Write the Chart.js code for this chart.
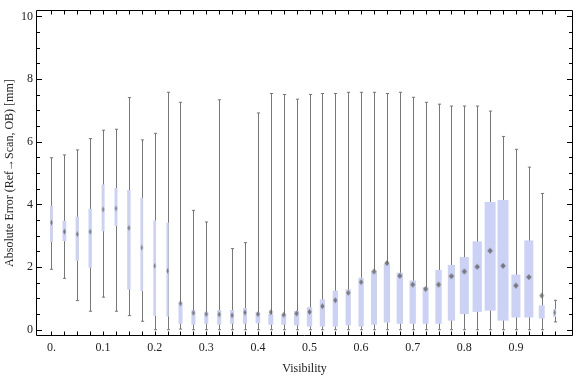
<!DOCTYPE html>
<html><head><meta charset="utf-8">
<script src="https://cdn.jsdelivr.net/npm/chart.js@4/dist/chart.umd.min.js"></script>
<style>html,body{margin:0;padding:0;background:#fff}#wrap{width:576px;height:377px}</style>
</head><body><div id="wrap"><canvas id="c" width="576" height="377"></canvas></div>
<script>
// ---- data ----
const visibility = [0,0.025,0.05,0.075,0.1,0.125,0.15,0.175,0.2,0.225,
  0.25,0.275,0.3,0.325,0.35,0.375,0.4,0.425,0.45,0.475,
  0.5,0.525,0.55,0.575,0.6,0.625,0.65,0.675,0.7,0.725,
  0.75,0.775,0.8,0.825,0.85,0.875,0.9,0.925,0.95,0.975];
const whiskerHigh = [5.49,5.58,5.74,6.10,6.37,6.40,7.41,6.06,6.27,7.58,
  7.26,3.81,3.44,7.34,2.59,2.78,6.92,7.54,7.51,7.36,
  7.51,7.54,7.54,7.58,7.58,7.58,7.54,7.58,7.42,7.26,
  7.20,7.14,7.14,7.14,6.98,6.17,5.76,5.19,4.35,0.94];
const upperQuartile = [3.96,3.48,3.61,3.86,4.64,4.52,4.46,4.21,3.49,3.42,
  0.87,0.63,0.56,0.63,0.63,0.69,0.56,0.50,0.50,0.60,
  0.72,0.97,1.25,1.29,1.66,1.88,2.11,1.82,1.57,1.36,
  1.91,2.07,2.32,2.82,4.08,4.14,1.76,2.85,0.78,0.66];
const median = [3.42,3.13,3.05,3.13,3.84,3.87,3.25,2.62,2.04,1.88,
  0.84,0.54,0.50,0.49,0.46,0.55,0.50,0.56,0.48,0.52,
  0.57,0.75,0.94,1.18,1.52,1.86,2.13,1.72,1.44,1.30,
  1.44,1.71,1.86,2.01,2.52,2.04,1.41,1.68,1.09,0.55];
const lowerQuartile = [2.80,2.83,2.20,1.98,3.14,3.31,1.28,1.23,0.44,0.42,
  0.19,0.16,0.19,0.16,0.19,0.19,0.21,0.16,0.16,0.14,
  0.10,0.10,0.10,0.14,0.10,0.16,0.23,0.19,0.19,0.19,
  0.19,0.29,0.50,0.57,0.61,0.29,0.39,0.39,0.36,0.41];
const whiskerLow = [1.93,1.64,0.93,0.59,1.04,0.59,0.45,0.27,0,0,
  0.02,0,0,0,0,0,0,0,0,0,
  0,0,0,0,0,0,0,0,0,0,
  0,0,0,0,0,0,0,0,0,0.25];
// relative box width (share of the bin spacing)
const relWidth = [0.23,0.29,0.26,0.26,0.23,0.23,0.26,0.21,0.21,0.18,
  0.31,0.31,0.31,0.31,0.31,0.31,0.36,0.39,0.39,0.41,
  0.41,0.41,0.41,0.41,0.41,0.46,0.49,0.49,0.49,0.46,
  0.49,0.56,0.70,0.72,0.85,0.85,0.70,0.70,0.46,0.23];
const xTickValues = [0,0.1,0.2,0.3,0.4,0.5,0.6,0.7,0.8,0.9];
const xTickLabels = ["0.","0.1","0.2","0.3","0.4","0.5","0.6","0.7","0.8","0.9"];
const yTickValues = [0,2,4,6,8,10];
const yTickLabels = ["0","2","4","6","8","10"];

// ---- drawing ----
const FONT = {family:"'Liberation Serif','Times New Roman',serif", size:12};
const BIN_PX = 12.93; // approximate pixel spacing of bins, only for marker sprite size
const markerCache = {};
function markerSprite(i){
  const w = Math.max(2.2, Math.min(5.5, relWidth[i]*BIN_PX*0.8));
  const key = w.toFixed(1);
  if (markerCache[key]) return markerCache[key];
  const c = document.createElement('canvas');
  const W = Math.ceil(w)+2, H = 8;
  c.width = W; c.height = H;
  const g = c.getContext('2d');
  g.fillStyle = 'rgba(105,105,105,0.85)';
  g.beginPath();
  g.moveTo(W/2, 1); g.lineTo(W/2+w/2, H/2); g.lineTo(W/2, H-1); g.lineTo(W/2-w/2, H/2);
  g.closePath(); g.fill();
  markerCache[key] = c;
  return c;
}

const boxPlugin = {
  id:'boxes',
  beforeDatasetsDraw(chart){
    const {ctx, scales:{x,y}} = chart;
    const step = x.getPixelForValue(visibility[1]) - x.getPixelForValue(visibility[0]);
    ctx.save();
    for (let i=0;i<visibility.length;i++){
      const cx = x.getPixelForValue(visibility[i]);
      const px = Math.round(cx)+0.5;
      const yh = y.getPixelForValue(whiskerHigh[i]);
      const yl = y.getPixelForValue(whiskerLow[i]);
      ctx.strokeStyle = '#777';
      ctx.lineWidth = 1;
      ctx.beginPath();
      ctx.moveTo(px,yh); ctx.lineTo(px,yl);
      ctx.moveTo(px-1.6,yh); ctx.lineTo(px+1.6,yh);
      ctx.moveTo(px-1.6,yl); ctx.lineTo(px+1.6,yl);
      ctx.stroke();
      const w = relWidth[i]*step;
      const y3 = y.getPixelForValue(upperQuartile[i]);
      const y1 = y.getPixelForValue(lowerQuartile[i]);
      ctx.fillStyle = '#cbd2f5';
      ctx.fillRect(cx-w/2, y3, w, y1-y3);
    }
    ctx.restore();
  },
  afterDraw(chart){
    const {ctx, chartArea:a, scales:{x,y}} = chart;
    ctx.save();
    ctx.strokeStyle = '#000';
    ctx.lineWidth = 1;
    const L = Math.round(a.left)+0.5, R = Math.round(a.right)-0.5;
    const T = Math.round(a.top)+0.5, B = Math.round(a.bottom)-0.5;
    ctx.beginPath();
    ctx.rect(L,T,R-L,B-T);
    for (const v of visibility){
      const px = Math.round(x.getPixelForValue(v))+0.5;
      ctx.moveTo(px,B); ctx.lineTo(px,B-4);
      ctx.moveTo(px,T); ctx.lineTo(px,T+4);
    }
    for (let k=0;k<=20;k++){
      const v = k*0.5;
      const py = Math.round(y.getPixelForValue(v))+0.5;
      const len = (k%4===0)?5.5:3.5;
      ctx.moveTo(L,py); ctx.lineTo(L+len,py);
      ctx.moveTo(R,py); ctx.lineTo(R-len,py);
    }
    ctx.stroke();
    ctx.restore();
  }
};

new Chart(document.getElementById('c'), {
  type:'scatter',
  data:{datasets:[{
    label:'median',
    data: visibility.map((v,i)=>({x:v,y:median[i]})),
    pointStyle: ctx => markerSprite(ctx.dataIndex),
    pointRadius:3,
    pointHoverRadius:3,
    backgroundColor:'rgba(100,100,100,0.85)',
    borderWidth:0
  }]},
  options:{
    responsive:false,
    animation:false,
    devicePixelRatio:1,
    events:[],
    layout:{padding:{top:4,right:1,bottom:0,left:0}},
    plugins:{legend:{display:false},tooltip:{enabled:false}},
    scales:{
      x:{
        type:'linear', min:-0.030, max:1.0106,
        afterBuildTicks:s=>{ s.ticks = xTickValues.map(v=>({value:v})); },
        afterFit:s=>{ s.height = 41; },
        grid:{display:false, drawTicks:false},
        border:{display:false},
        ticks:{callback:(v,i)=>xTickLabels[i], font:FONT, color:'#222', padding:5, maxRotation:0, autoSkip:false},
        title:{display:true, text:'Visibility', font:FONT, color:'#222', padding:{top:0,bottom:1}}
      },
      y:{
        type:'linear', min:-0.2, max:10.2,
        afterBuildTicks:s=>{ s.ticks = yTickValues.map(v=>({value:v})); },
        afterFit:s=>{ s.width = 36; },
        grid:{display:false, drawTicks:false},
        border:{display:false},
        ticks:{callback:(v,i)=>yTickLabels[i], font:FONT, color:'#222', padding:3, autoSkip:false},
        title:{display:true, text:'Absolute Error (Ref\u2192Scan, OB) [mm]', font:FONT, color:'#222', padding:{top:3,bottom:0}}
      }
    }
  },
  plugins:[boxPlugin]
});
</script></body></html>
